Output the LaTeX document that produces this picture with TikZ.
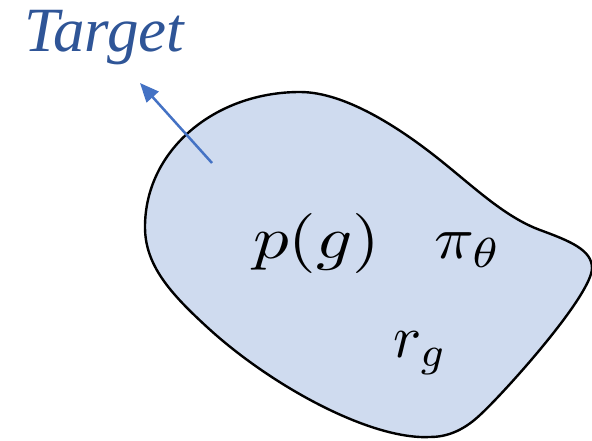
\documentclass[tikz,border=0pt]{standalone}
\usepackage{fontspec}
\setmainfont{Liberation Serif}
\usetikzlibrary{arrows.meta}
\definecolor{blobfill}{HTML}{CFDBEF}
\definecolor{tgtblue}{HTML}{2F5597}
\definecolor{arrblue}{HTML}{4472C4}
\begin{document}
\begin{tikzpicture}[x=1pt,y=-1pt,
  mathlbl/.style={inner sep=0pt, anchor=base west},
  blob/.style={line width=2.4pt, fill=blobfill, draw=black},
  pointer/.style={draw=arrblue, line width=2.5pt, -{Triangle[length=19pt,width=16pt]}}]
\useasboundingbox (0,0) rectangle (592,440);
\draw[blob] (145,227)
  .. controls (145,150) and (215,92) .. (300,92)
  .. controls (345,92) and (400,128) .. (440,160)
  .. controls (475,188) and (505,217) .. (540,230)
  .. controls (570,241) and (592,250) .. (592,268)
  .. controls (592,295) and (505,392) .. (480,415)
  .. controls (462,432) and (445,437) .. (430,437)
  .. controls (370,440) and (270,385) .. (207,327)
  .. controls (170,293) and (145,265) .. (145,227) -- cycle;
\node[anchor=base west, inner sep=0pt, text=tgtblue, font=\fontsize{63}{72}\selectfont\itshape] (target) at (24,51) {Target};
\node[mathlbl] (pg) at (253,258) {\scalebox{7.1}[6.0]{$p(g)$}};
\node[mathlbl] (pi) at (434,258) {\scalebox{6.6}[6.0]{$\pi_\theta$}};
\node[mathlbl] (rg) at (393,357) {\scalebox{5.9}[6.0]{$r_g$}};
\coordinate (tail) at (212,163);
\coordinate (tip) at (140,83);
\draw[pointer] (tail) -- (tip);
\end{tikzpicture}
\end{document}
